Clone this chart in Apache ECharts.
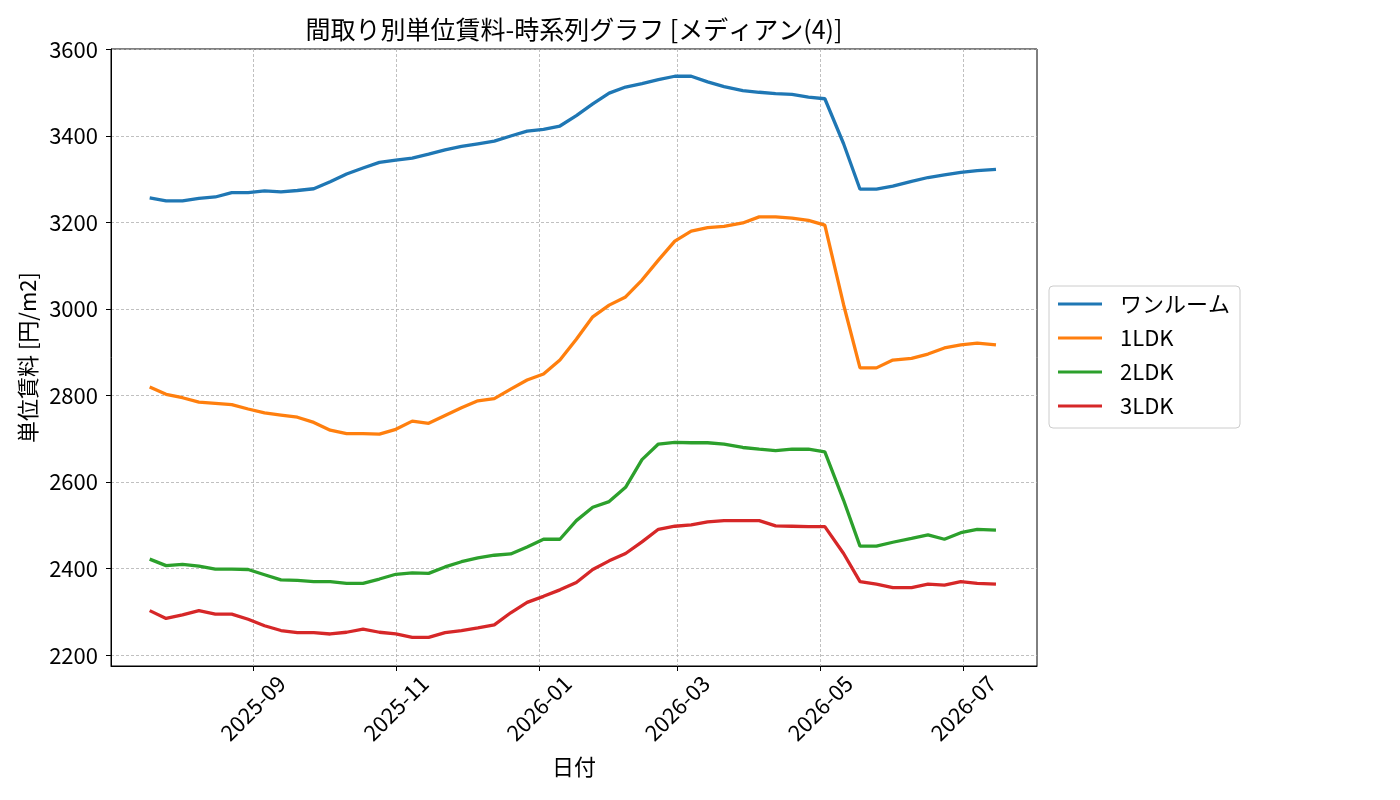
<!DOCTYPE html>
<html>
<head>
<meta charset="utf-8">
<script src="https://cdn.jsdelivr.net/npm/echarts@6/dist/echarts.min.js"></script>
<style>
  html, body { margin: 0; padding: 0; background: #fff; }
  #chart { width: 1400px; height: 800px; }
</style>
</head>
<body>
<div id="chart"></div>
<script>
// dates of the points (about weekly)
var dates = [
  '2025-07-19', '2025-07-26', '2025-08-02', '2025-08-09', '2025-08-16', '2025-08-23', '2025-08-30',
  '2025-09-06', '2025-09-13', '2025-09-20', '2025-09-27', '2025-10-04', '2025-10-11', '2025-10-18',
  '2025-10-25', '2025-11-01', '2025-11-08', '2025-11-15', '2025-11-22', '2025-11-29', '2025-12-06',
  '2025-12-13', '2025-12-20', '2025-12-27', '2026-01-03', '2026-01-10', '2026-01-17', '2026-01-24',
  '2026-01-31', '2026-02-07', '2026-02-14', '2026-02-21', '2026-02-28', '2026-03-07', '2026-03-14',
  '2026-03-21', '2026-03-29', '2026-04-05', '2026-04-12', '2026-04-19', '2026-04-26', '2026-05-03',
  '2026-05-11', '2026-05-18', '2026-05-25', '2026-06-01', '2026-06-09', '2026-06-16', '2026-06-23',
  '2026-06-30', '2026-07-07', '2026-07-15'
];

var oneRoom = [
  3257, 3250, 3250, 3256, 3259, 3269, 3269, 3273, 3271, 3274, 3278, 3294, 3312, 3326,
  3339, 3344, 3349, 3358, 3368, 3376, 3382, 3388, 3400, 3411, 3415, 3423, 3447, 3474,
  3499, 3513, 3521, 3530, 3538, 3538, 3525, 3514, 3505, 3501, 3498, 3496, 3490, 3486,
  3382, 3277, 3277, 3284, 3295, 3304, 3310, 3316, 3320, 3323
];
var ldk1 = [
  2820, 2803, 2795, 2785, 2782, 2779, 2769, 2760, 2755, 2750, 2738, 2720, 2712, 2712,
  2711, 2722, 2741, 2736, 2754, 2772, 2788, 2793, 2815, 2836, 2850, 2882, 2930, 2982,
  3009, 3028, 3067, 3113, 3157, 3180, 3188, 3191, 3199, 3213, 3213, 3210, 3205, 3194,
  3010, 2864, 2864, 2882, 2886, 2896, 2910, 2917, 2921, 2917
];
var ldk2 = [
  2422, 2407, 2410, 2406, 2399, 2399, 2398, 2386, 2374, 2373, 2370, 2370, 2366, 2366,
  2376, 2387, 2390, 2389, 2404, 2416, 2425, 2431, 2434, 2450, 2468, 2468, 2511, 2542,
  2555, 2588, 2652, 2688, 2692, 2691, 2691, 2688, 2680, 2676, 2673, 2676, 2676, 2670,
  2558, 2452, 2452, 2461, 2470, 2478, 2468, 2483, 2491, 2489
];
var ldk3 = [
  2303, 2285, 2293, 2303, 2295, 2295, 2283, 2268, 2257, 2252, 2252, 2249, 2253, 2260,
  2253, 2249, 2241, 2241, 2252, 2257, 2263, 2270, 2298, 2322, 2336, 2351, 2368, 2398,
  2418, 2435, 2462, 2491, 2498, 2501, 2508, 2511, 2511, 2511, 2499, 2498, 2497, 2497,
  2435, 2370, 2364, 2356, 2356, 2364, 2362, 2370, 2366, 2364
];

var seriesNames = ['ワンルーム', '1LDK', '2LDK', '3LDK'];
var seriesColors = ['#1f77b4', '#ff7f0e', '#2ca02c', '#d62728'];
var seriesValues = [oneRoom, ldk1, ldk2, ldk3];

var xTickDates = ['2025-09-01', '2025-11-01', '2026-01-01', '2026-03-01', '2026-05-01', '2026-07-01'];
var yTicks = [2200, 2400, 2600, 2800, 3000, 3200, 3400, 3600];

function toTime(s) {
  var p = s.split('-');
  return new Date(+p[0], +p[1] - 1, +p[2]).getTime();
}

var FONT = '"Noto Sans CJK JP", "Noto Sans", sans-serif';
var xTicks = xTickDates.map(toTime);

var chart = echarts.init(document.getElementById('chart'), null, { renderer: 'canvas' });

var series = seriesNames.map(function (name, k) {
  return {
    name: name,
    type: 'line',
    symbol: 'none',
    color: seriesColors[k],
    lineStyle: { width: 3.3, color: seriesColors[k] },
    data: dates.map(function (d, i) { return [toTime(d), seriesValues[k][i]]; })
  };
});

var option = {
  animation: false,
  backgroundColor: '#fff',
  textStyle: { fontFamily: FONT },
  title: {
    text: '間取り別単位賃料-時系列グラフ [メディアン(4)]',
    left: 574,
    top: 17,
    textAlign: 'center',
    padding: 0,
    textStyle: { fontFamily: FONT, fontSize: 25, fontWeight: 'normal', color: '#000' }
  },
  legend: {
    orient: 'vertical',
    left: 1049,
    top: 286,
    padding: [7, 10, 11, 9],
    icon: 'rect',
    itemWidth: 44,
    itemHeight: 3,
    itemGap: 12,
    borderColor: '#cccccc',
    borderWidth: 1,
    borderRadius: 4,
    backgroundColor: 'rgba(255,255,255,0.8)',
    textStyle: { fontFamily: FONT, fontSize: 22, color: '#000', lineHeight: 22, padding: [0, 0, 0, 13] },
    data: seriesNames
  },
  grid: {
    left: 111,
    top: 49,
    right: 363,
    bottom: 134,
    show: true,
    borderColor: '#000',
    borderWidth: 1,
    containLabel: false
  },
  xAxis: {
    type: 'value',
    min: toTime('2025-07-02') + 12 * 3600 * 1000,
    max: toTime('2026-08-01') + 12 * 3600 * 1000,
    name: '日付',
    nameLocation: 'middle',
    nameGap: 90,
    nameTextStyle: { fontFamily: FONT, fontSize: 22, color: '#000', verticalAlign: 'top' },
    axisLine: { show: true, onZero: false, lineStyle: { color: '#000', width: 1 } },
    axisTick: { show: true, length: 5, lineStyle: { color: '#000' }, customValues: xTicks },
    axisLabel: {
      customValues: xTicks,
      rotate: 45,
      align: 'center',
      verticalAlign: 'middle',
      margin: 42,
      fontFamily: FONT,
      fontSize: 22,
      color: '#000',
      formatter: function (v) {
        var d = new Date(v);
        var m = d.getMonth() + 1;
        return d.getFullYear() + '-' + (m < 10 ? '0' + m : m);
      }
    },
    splitLine: { show: true, lineStyle: { color: '#b0b0b0', type: [3, 2], width: 0.8 } }
  },
  yAxis: {
    type: 'value',
    min: 2175,
    max: 3601,
    name: '単位賃料 [円/m2]',
    nameLocation: 'middle',
    nameGap: 68,
    nameRotate: 90,
    nameTextStyle: { fontFamily: FONT, fontSize: 22, color: '#000' },
    axisLine: { show: true, lineStyle: { color: '#000', width: 1 } },
    axisTick: { show: true, length: 5, lineStyle: { color: '#000' }, customValues: yTicks },
    axisLabel: {
      customValues: yTicks,
      margin: 13,
      fontFamily: FONT,
      fontSize: 22,
      color: '#000',
      formatter: function (v) { return String(v); }
    },
    splitLine: { show: true, lineStyle: { color: '#b0b0b0', type: [3, 2], width: 0.8 } }
  },
  series: series
};

chart.setOption(option);

window.addEventListener('resize', function () {
  chart.resize();
});
</script>
</body>
</html>
